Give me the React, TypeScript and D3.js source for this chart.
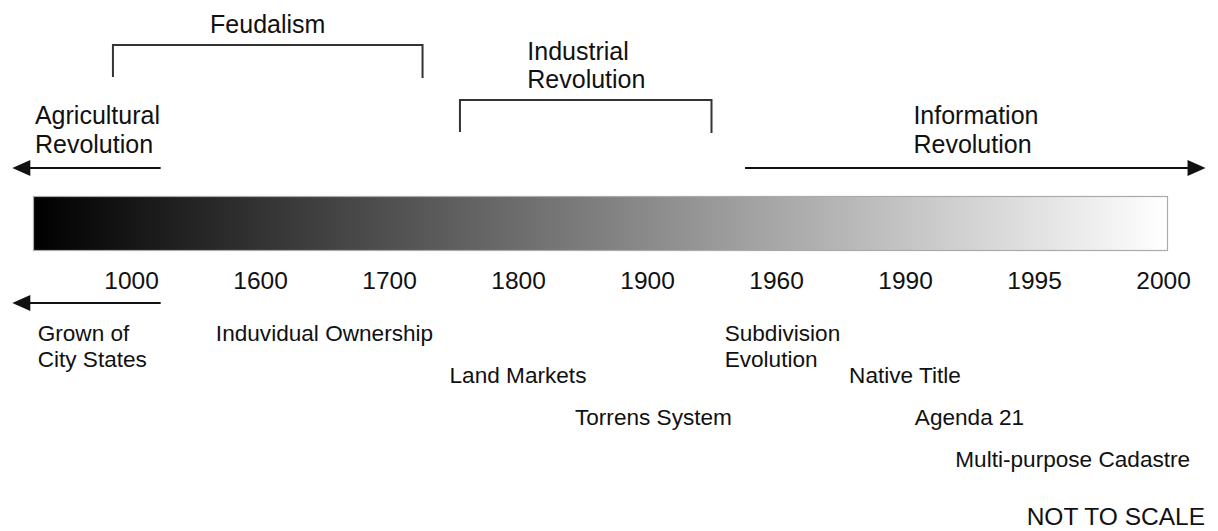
import { useEffect, useRef } from "react";
import * as d3 from "d3";

// tick labels along the bar (evenly spaced, not to scale)
const years = ["1000", "1600", "1700", "1800", "1900", "1960", "1990", "1995", "2000"];

// bracketed periods above the bar; spans in tick-index units
const periodNames = [["Feudalism"], ["Industrial", "Revolution"]];
const periodSpans = [[-0.14, 2.26], [2.55, 4.5]];
const periodCentres = [1.06, 3.53];

// open-ended eras drawn as arrows
const eraNames = [["Agricultural", "Revolution"], ["Information", "Revolution"]];
const eraFrom = [0.23, 4.76];
const eraTo = [-0.92, 8.33];
const eraCentres = [-0.26, 6.55];

// events below the ticks
const eventNames = [
  ["Grown of", "City States"],
  ["Induvidual Ownership"],
  ["Land Markets"],
  ["Torrens System"],
  ["Subdivision", "Evolution"],
  ["Native Title"],
  ["Agenda 21"],
  ["Multi-purpose Cadastre"],
];
const eventAt = [-0.3, 1.5, 3.0, 4.05, 5.05, 6.0, 6.5, 7.3];
const eventRow = [0, 0, 1, 2, 0, 1, 2, 3];

const W = 1218;
const H = 531;
const FONT = "'Liberation Sans', Arial, Helvetica, sans-serif";
const INK = "#111";

export default function App() {
  const ref = useRef<SVGSVGElement | null>(null);

  useEffect(() => {
    if (!ref.current) return;
    const svg = d3.select(ref.current);
    svg.selectAll("*").remove();

    const xPoint = d3.scalePoint<string>().domain(years).range([131, 1163]);
    const x = d3.scaleLinear().domain([0, years.length - 1]).range([131, 1163]);
    const rowY = d3.scaleLinear().domain([0, 3]).range([341, 467]);

    // gradient bar
    const defs = svg.append("defs");
    const grad = defs
      .append("linearGradient")
      .attr("id", "barGrad")
      .attr("x1", "0%")
      .attr("x2", "100%");
    grad.append("stop").attr("offset", "0%").attr("stop-color", "#000");
    grad.append("stop").attr("offset", "100%").attr("stop-color", "#fff");

    svg
      .append("rect")
      .attr("x", 33.5)
      .attr("y", 196.5)
      .attr("width", 1134)
      .attr("height", 54)
      .attr("fill", "url(#barGrad)")
      .attr("stroke", "#aaa")
      .attr("stroke-width", 1.2);

    // text block helper: left-aligned lines, block centred on cx
    const block = (
      lines: string[],
      cx: number,
      firstBaseline: number,
      size: number,
      lineH: number
    ) => {
      const t = svg
        .append("text")
        .attr("font-family", FONT)
        .attr("font-size", size)
        .attr("fill", INK);
      lines.forEach((l, i) => {
        t.append("tspan").attr("x", 0).attr("y", i * lineH).text(l);
      });
      const w = (t.node() as SVGTextElement).getBBox().width;
      t.attr("transform", `translate(${cx - w / 2},${firstBaseline})`);
    };

    const arrow = (from: number, to: number, y: number) => {
      const dir = Math.sign(to - from);
      const head = 18;
      svg
        .append("line")
        .attr("x1", from)
        .attr("x2", to - dir * (head - 2))
        .attr("y1", y)
        .attr("y2", y)
        .attr("stroke", INK)
        .attr("stroke-width", 2);
      const p = d3.path();
      p.moveTo(to, y);
      p.lineTo(to - dir * head, y - 8);
      p.lineTo(to - dir * head, y + 8);
      p.closePath();
      svg.append("path").attr("d", p.toString()).attr("fill", INK);
    };

    // periods with brackets
    periodNames.forEach((lines, i) => {
      const top = 45 + 55 * i;
      const [a, b] = periodSpans[i];
      const line = d3.line();
      svg
        .append("path")
        .attr(
          "d",
          line([
            [x(a), top + 32],
            [x(a), top],
            [x(b), top],
            [x(b), top + 33],
          ])
        )
        .attr("fill", "none")
        .attr("stroke", "#333")
        .attr("stroke-width", 2);
      const lineH = 28;
      block(lines, x(periodCentres[i]), top - 12 - lineH * (lines.length - 1), 25, lineH);
    });

    // eras with arrows
    eraNames.forEach((lines, i) => {
      arrow(x(eraFrom[i]), x(eraTo[i]), 168);
      block(lines, x(eraCentres[i]), 123.5, 25, 29);
    });

    // year ticks
    const axis = svg
      .append("g")
      .attr("transform", "translate(0,289)")
      .call(d3.axisBottom(xPoint).tickSize(0).tickPadding(0));
    axis.select(".domain").remove();
    axis
      .selectAll("text")
      .attr("y", 0)
      .attr("dy", 0)
      .attr("font-family", FONT)
      .attr("font-size", 24.5)
      .attr("fill", INK);

    // arrow into the past below the ticks
    arrow(x(eraFrom[0]), x(eraTo[0]), 303);

    // events
    eventNames.forEach((lines, i) => {
      block(lines, x(eventAt[i]), rowY(eventRow[i]), 22.6, 26);
    });

    svg
      .append("text")
      .attr("x", 1205)
      .attr("y", 525)
      .attr("text-anchor", "end")
      .attr("font-family", FONT)
      .attr("font-size", 24.5)
      .attr("fill", INK)
      .text("NOT TO SCALE");
  }, []);

  return (
    <svg
      ref={ref}
      width={W}
      height={H}
      style={{ position: "absolute", left: 0, top: 0, background: "#fff" }}
    />
  );
}
